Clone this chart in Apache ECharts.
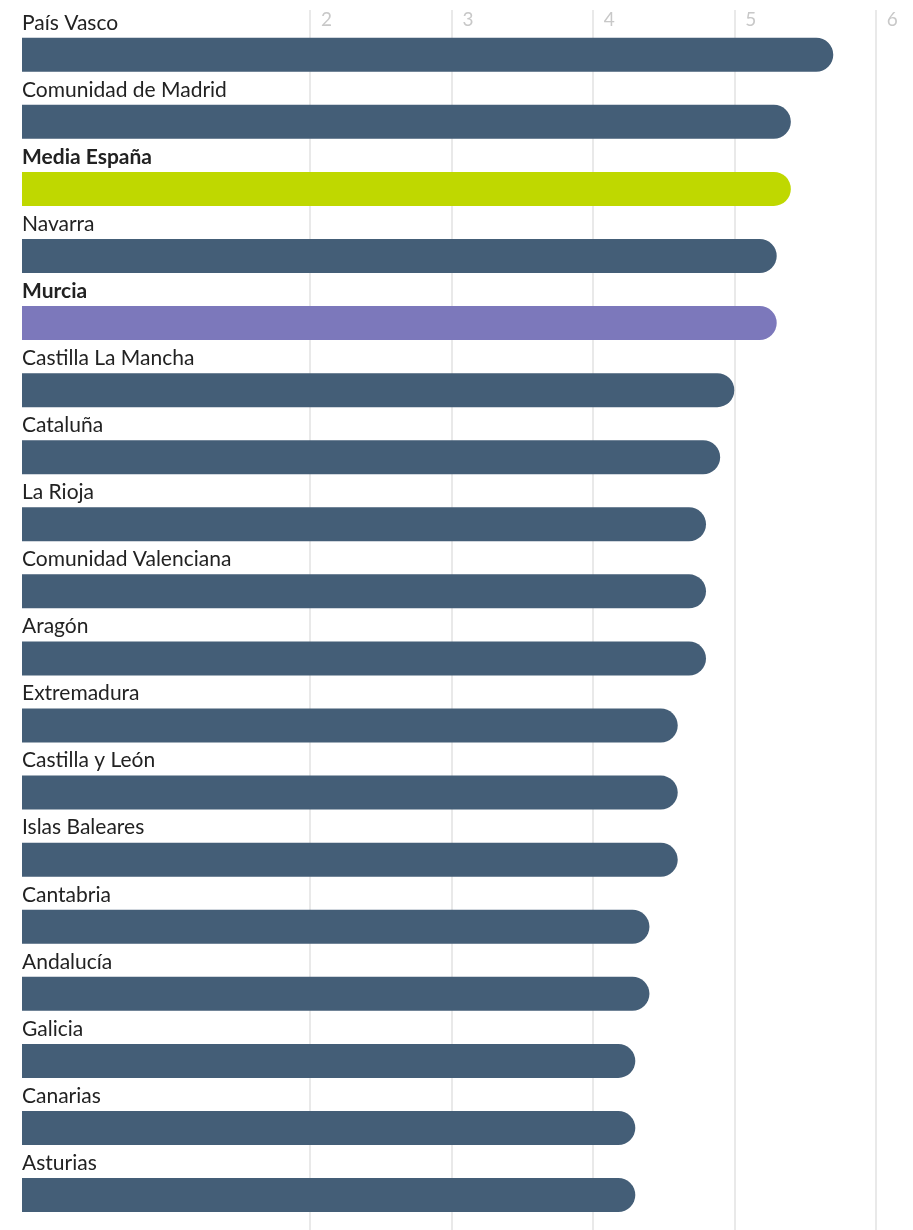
<!DOCTYPE html>
<html>
<head>
<meta charset="utf-8">
<script src="https://cdn.jsdelivr.net/npm/echarts@6/dist/echarts.min.js"></script>
<style>
html,body{margin:0;padding:0;background:#fff;}
#chart{width:913px;height:1230px;}
</style>
</head>
<body>
<div id="chart"></div>
<script>
const categories = ["País Vasco","Comunidad de Madrid","Media España","Navarra","Murcia","Castilla La Mancha","Cataluña","La Rioja","Comunidad Valenciana","Aragón","Extremadura","Castilla y León","Islas Baleares","Cantabria","Andalucía","Galicia","Canarias","Asturias"];
const values = [5.7,5.4,5.4,5.3,5.3,5.0,4.9,4.8,4.8,4.8,4.6,4.6,4.6,4.4,4.4,4.3,4.3,4.3];
const highlighted = {"Media España":"#bfd800","Murcia":"#7c78bb"};
const tickLabels = ["","","2","3","4","5","6"];

const baseColor = "#445e77";
const seriesData = categories.map((c,i)=>[values[i], i]);

const chart = echarts.init(document.getElementById('chart'), null, {renderer:'canvas'});
chart.setOption({
  animation:false,
  grid:[
    {left:22, right:37.3, top:21.2, bottom:1.4},
    {left:27.2, right:37.3, top:10, bottom:0}
  ],
  xAxis:[
    {gridIndex:0, type:'value', min:-0.037, max:6, show:false},
    {gridIndex:1, type:'value', min:0, max:6, interval:1, position:'top',
     axisLine:{show:false}, axisTick:{show:false},
     axisLabel:{inside:true, margin:0, align:'left', verticalAlign:'top', padding:[0,0,0,11],
       color:'#c8c8c8', fontFamily:'Lato', fontSize:19,
       formatter:(v)=>tickLabels[Math.round(v)] || ''},
     splitLine:{show:true, lineStyle:{color:['rgba(0,0,0,0)','rgba(0,0,0,0)','#e2e2e2','#e2e2e2','#e2e2e2','#e2e2e2','#e2e2e2'], width:1.5}}
    }
  ],
  yAxis:[
    {gridIndex:0, type:'category', data:categories, inverse:true, show:false},
    {gridIndex:1, type:'value', show:false}
  ],
  series:[{
    type:'custom',
    xAxisIndex:0, yAxisIndex:0,
    data:seriesData,
    encode:{x:0, y:1},
    z:3,
    renderItem:function(params, api){
      const v = api.value(0);
      const idx = api.value(1);
      const end = api.coord([v, idx]);
      const x0 = params.coordSys.x;
      const h = 34;
      const name = categories[idx];
      const hl = highlighted[name];
      return {
        type:'group',
        children:[
          {type:'rect',
           shape:{x:x0, y:end[1]-h/2, width:end[0]-x0, height:h, r:[0,h/2,h/2,0]},
           style:{fill: hl || baseColor}},
          {type:'text',
           x:x0, y:end[1]-h/2-15,
           style:{text:name, fill:'#222', font:(hl?'bold ':'')+'21px Lato', textAlign:'left', textVerticalAlign:'middle'}}
        ]
      };
    }
  }]
});
</script>
</body>
</html>
